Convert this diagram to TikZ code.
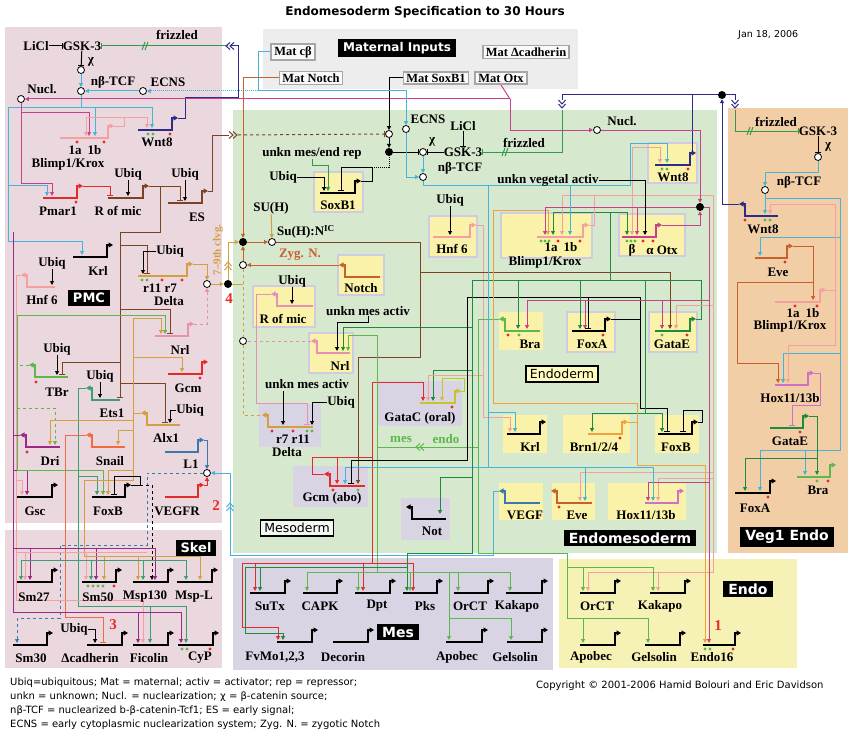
\documentclass[tikz,border=0pt]{standalone}
\usepackage{fontspec}
\setmainfont{Liberation Serif}
\newfontfamily\dsans{DejaVu Sans}
\usetikzlibrary{arrows.meta}
\pgfdeclarelayer{back}\pgfdeclarelayer{mid}\pgfsetlayers{back,mid,main}
\definecolor{pinkBG}{HTML}{EBD8DE}
\definecolor{greenBG}{HTML}{D6E8CD}
\definecolor{orangeBG}{HTML}{F2CEA6}
\definecolor{lavBG}{HTML}{D8D4E3}
\definecolor{yelBG}{HTML}{F6F1B4}
\definecolor{grayBG}{HTML}{EEEDED}
\definecolor{boxY}{HTML}{F9F2A8}
\definecolor{boxL}{HTML}{CFCBE3}
\definecolor{cLB}{HTML}{45B4D8}
\definecolor{cMag}{HTML}{C8408C}
\definecolor{cSal}{HTML}{F2A0A0}
\definecolor{cNavy}{HTML}{2C2C88}
\definecolor{cRed}{HTML}{E42A2A}
\definecolor{cBrown}{HTML}{7A4422}
\definecolor{cGold}{HTML}{D2A042}
\definecolor{cPink}{HTML}{E690B4}
\definecolor{cHox}{HTML}{D070C0}
\definecolor{cLG}{HTML}{5CB84A}
\definecolor{cTeal}{HTML}{3AA070}
\definecolor{cDG}{HTML}{1E8A3C}
\definecolor{cPur}{HTML}{9A2886}
\definecolor{cSnail}{HTML}{F06A44}
\definecolor{cSteel}{HTML}{3A78B0}
\definecolor{cOr}{HTML}{F0A040}
\definecolor{cEve}{HTML}{C8602C}
\definecolor{cOlive}{HTML}{C8C428}
\definecolor{cFz}{HTML}{2E9C4C}
\tikzset{
 gt/.style={font=\bfseries\fontsize{13}{14}\selectfont, inner sep=0pt},
 ft/.style={font=\dsans\fontsize{10}{12}\selectfont, inner sep=0pt, anchor=west},
 blk/.style={fill=black, text=white, font=\dsans\bfseries\fontsize{13}{14}\selectfont, inner xsep=5pt, inner ysep=3pt},
 lbl/.style={draw=black, line width=1.6pt, font=\dsans\fontsize{12.5}{14}\selectfont, inner xsep=4pt, inner ysep=3pt},
 mat/.style={font=\bfseries\fontsize{12.5}{14}\selectfont, draw=gray!70, fill=white!95!gray, line width=1.6pt, inner xsep=3pt, inner ysep=2pt},
 num/.style={font=\bfseries\fontsize{15}{16}\selectfont, text=cRed, inner sep=0pt},
 clv/.style={font=\bfseries\fontsize{11}{12}\selectfont, text=cGold, inner sep=0pt, rotate=90},
 gl/.style={line width=2pt},
 cn/.style={line width=1pt},
 ar/.style={cn,-{Triangle[length=4pt,width=4pt]}},
 rp/.style={cn,-{Bar[width=6pt,line width=1pt]}},
 oc/.style={circle, draw=black, fill=white, line width=0.8pt, minimum size=7pt, inner sep=0pt},
 fc/.style={circle, fill=black, minimum size=8pt, inner sep=0pt},
 gbox/.style={fill=boxY, draw=boxL, line width=2pt},
 lbox/.style={fill=lavBG},
}
\newcommand\gR[4]{\draw[gl,#1,-{Triangle[length=4.5pt,width=5pt]}] (#2,#4)--(#3,#4)--(#3,#4-12)--(#3+6,#4-12);}
\newcommand\gL[4]{\draw[gl,#1,-{Triangle[length=4.5pt,width=5pt]}] (#3,#4)--(#2,#4)--(#2,#4-12)--(#2-6,#4-12);}
\newcommand\dR[2]{\fill[cRed] (#1,#2) circle (1.7pt);}
\newcommand\dG[2]{\fill[cLG] (#1,#2) circle (1.7pt);}
\newcommand\chev[4]{\begin{scope}[shift={(#1,#2)},rotate=#3]\draw[#4,line width=1pt] (4,-3.5)--(0,0)--(4,3.5) (8,-3.5)--(4,0)--(8,3.5);\end{scope}}
\newcommand\brk[3]{\draw[#3,line width=1pt] (#1-3,#2+4)--(#1,#2-4) (#1,#2+4)--(#1+3,#2-4);}
\begin{document}
\begin{tikzpicture}[x=1pt,y=-1pt]
\useasboundingbox (0,0) rectangle (850,741);
\begin{pgfonlayer}{back}
\fill[white] (0,0) rectangle (850,741);
\fill[pinkBG] (5,27) rectangle (222,523);
\fill[pinkBG] (5,530) rectangle (222,668);
\fill[grayBG] (263,29) rectangle (578,89);
\fill[greenBG] (233,110) rectangle (717,553);
\fill[orangeBG] (728,108) rectangle (848,553);
\fill[lavBG] (233,558) rectangle (553,670);
\fill[yelBG] (559,559) rectangle (797,668);
\draw[gbox] (314,172) rectangle (363,212);
\draw[gbox] (429,216) rectangle (477,257);
\draw[gbox] (338,255) rectangle (384,295);
\draw[gbox] (253,286) rectangle (315,327);
\draw[gbox] (309,333) rectangle (353,373);
\fill[lbox] (259,404) rectangle (321,447);
\fill[lbox] (378,381) rectangle (462,426);
\fill[lbox] (293,466) rectangle (368,507);
\fill[lbox] (401,498) rectangle (450,540);
\draw[gbox] (501,213) rectangle (592,258);
\draw[gbox] (619,214) rectangle (685,256);
\draw[gbox] (648,143) rectangle (697,183);
\fill[boxY] (499,312) rectangle (543,350);
\draw[gbox] (567,312) rectangle (615,352);
\draw[gbox] (649,312) rectangle (697,352);
\fill[boxY] (503,415) rectangle (547,453);
\fill[boxY] (563,415) rectangle (630,453);
\fill[boxY] (655,415) rectangle (699,453);
\fill[boxY] (499,483) rectangle (543,520);
\fill[boxY] (552,483) rectangle (595,520);
\fill[boxY] (608,483) rectangle (686,520);
\end{pgfonlayer}
% ---------- title and footer
\node[font=\dsans\bfseries\fontsize{12}{14}\selectfont, inner sep=0pt] (title) at (425,12) {Endomesoderm Specification to 30 Hours};
\node[ft, font=\dsans\fontsize{9.5}{11}\selectfont] (date) at (738,35) {Jan 18, 2006};
\node[ft] (f1) at (10,683) {Ubiq=ubiquitous; Mat = maternal; activ = activator; rep = repressor;};
\node[ft] (f2) at (10,697) {unkn = unknown; Nucl. = nuclearization; χ = β-catenin source;};
\node[ft] (f3) at (10,711) {nβ-TCF = nuclearized b-β-catenin-Tcf1; ES = early signal;};
\node[ft] (f4) at (10,725) {ECNS = early cytoplasmic nuclearization system; Zyg. N. = zygotic Notch};
\node[ft] (cpy) at (536,686) {Copyright © 2001-2006 Hamid Bolouri and Eric Davidson};
% ---------- maternal
\node[blk, font=\dsans\bfseries\fontsize{12}{14}\selectfont] (matin) at (397,48) {Maternal Inputs};
\node[mat] (matcb) at (293,52) {Mat cβ};
\node[mat] (matnotch) at (311,78) {Mat Notch};
\node[mat] (matsox) at (436,78) {Mat SoxB1};
\node[mat] (matdc) at (526,52) {Mat Δcadherin};
\node[mat] (matotx) at (501,78) {Mat Otx};
% ---------- PMC nodes
\node[gt] (licl1) at (36,46) {LiCl};
\node[gt] (gsk1) at (82,46) {GSK-3};
\node[gt] (friz1) at (177,35) {frizzled};
\node[oc] (cx1) at (81,70) {};
\node[gt] (chi1) at (91,62) {χ};
\node[oc] (ntcf1) at (81,91) {};
\node[gt] (ntcfl1) at (113,82) {nβ-TCF};
\node[oc] (ecns1) at (143,91) {};
\node[gt] (ecnsl1) at (168,82) {ECNS};
\node[oc] (nucl1) at (21,99) {};
\node[gt] (nucll1) at (42,89) {Nucl.};
\node[gt] (bl1ab) at (85,150) {1a\hspace{6pt}1b};
\node[gt] (bl1) at (68,164) {Blimp1/Krox};
\node[gt] (wnt1) at (157,142) {Wnt8};
\node[gt] (pmar) at (58,211) {Pmar1};
\node[gt] (rom1) at (118,211) {R of mic};
\node[gt] (ubq1) at (128,174) {Ubiq};
\node[gt] (ubq2) at (185,174) {Ubiq};
\node[gt] (es) at (197,217) {ES};
\node[gt] (krl1) at (98,271) {Krl};
\node[gt] (ubq3) at (52,263) {Ubiq};
\node[gt] (hnf1) at (42,300) {Hnf 6};
\node[blk] (pmc) at (89,298) {PMC};
\node[gt] (ubq4) at (170,251) {Ubiq};
\node[gt] (dl1a) at (160,288) {r11 r7};
\node[gt] (dl1) at (169,301) {Delta};
\node[gt] (nrl1) at (180,350) {Nrl};
\node[gt] (ubq5) at (57,349) {Ubiq};
\node[gt] (tbr) at (57,392) {TBr};
\node[gt] (gcm1) at (188,388) {Gcm};
\node[gt] (ubq6) at (100,376) {Ubiq};
\node[gt] (ets) at (112,413) {Ets1};
\node[gt] (ubq7) at (190,410) {Ubiq};
\node[gt] (alx) at (166,438) {Alx1};
\node[gt] (dri) at (50,461) {Dri};
\node[gt] (snail) at (110,461) {Snail};
\node[gt] (l1) at (191,464) {L1};
\node[oc] (cL1) at (207,473) {};
\node[gt] (vegfr) at (177,511) {VEGFR};
\node[num] (n2) at (216,506) {2};
\node[gt] (gsc) at (35,511) {Gsc};
\node[gt] (foxb1) at (108,511) {FoxB};
\node[oc] (c7) at (207,284) {};
\node[fc] (fdP) at (228,284) {};
\node[num] (n4) at (229,299) {4};
\node[clv] (clvg) at (218,250) {7–9th clvg.};
% ---------- Skel nodes
\node[blk] (skel) at (196,548) {Skel};
\node[gt] (sm27) at (34,597) {Sm27};
\node[gt] (sm50) at (98,597) {Sm50};
\node[gt] (msp130) at (145,597) {Msp130};
\node[gt] (mspl) at (194,597) {Msp-L};
\node[gt] (sm30) at (31,658) {Sm30};
\node[gt] (dcad) at (90,658) {Δcadherin};
\node[gt] (fic) at (149,658) {Ficolin};
\node[gt] (cyp) at (200,658) {CyP};
\node[gt] (ubqS) at (74,629) {Ubiq};
\node[num] (n3) at (113,625) {3};
% ---------- green region nodes
\node[oc] (cA) at (389,134) {};
\node[fc] (fdA) at (389,152) {};
\node[oc] (cB) at (423,152) {};
\node[gt] (chi2) at (432,142) {χ};
\node[gt] (gsk2) at (463,152) {GSK-3};
\node[gt] (licl2) at (463,126) {LiCl};
\node[gt] (friz2) at (524,143) {frizzled};
\node[oc] (ecns2) at (406,129) {};
\node[gt] (ecnsl2) at (428,119) {ECNS};
\node[oc] (ntcf2) at (423,177) {};
\node[gt] (ntcfl2) at (460,168) {nβ-TCF};
\node[gt] (umer) at (312,153) {unkn mes/end rep};
\node[gt] (ubq8) at (283,177) {Ubiq};
\node[gt] (soxb) at (338,205) {SoxB1};
\node[gt] (suh) at (271,208) {SU(H)};
\node[oc] (su) at (272,242) {};
\node[gt] (sul) at (306,232) {Su(H):N\textsuperscript{IC}};
\node[fc] (fdB) at (243,242) {};
\node[oc] (zyg) at (243,265) {};
\node[gt, text=cEve] (zygl) at (300,255) {Zyg. N.};
\node[gt] (notch) at (361,288) {Notch};
\node[gt] (ubq9) at (450,200) {Ubiq};
\node[gt] (hnf2) at (452,249) {Hnf 6};
\node[gt] (ubq10) at (292,281) {Ubiq};
\node[gt] (rom2) at (283,319) {R of mic};
\node[gt] (uma1) at (368,311) {unkn mes activ};
\node[oc] (cN) at (243,341) {};
\node[gt] (nrl2) at (340,366) {Nrl};
\node[gt] (uma2) at (307,384) {unkn mes activ};
\node[gt] (ubq11) at (341,402) {Ubiq};
\node[gt] (dl2a) at (293,439) {r7 r11};
\node[gt] (dl2) at (287,452) {Delta};
\node[gt] (gatac) at (420,418) {GataC (oral)};
\node[gt, text=cLG] (mesl) at (401,439) {mes};
\node[gt, text=cLG] (endol) at (446,439) {endo};
\node[gt] (gcm2) at (332,498) {Gcm (abo)};
\node[gt] (notl) at (432,531) {Not};
\node[lbl, fill=white!70!greenBG] (mesod) at (297,528) {Mesoderm};
\node[gt] (uva) at (548,180) {unkn vegetal activ};
\node[gt] (bl2ab) at (561,247) {1a\hspace{6pt}1b};
\node[gt] (bl2) at (545,262) {Blimp1/Krox};
\node[gt] (otxb) at (632,250) {β};
\node[gt] (otx) at (662,250) {α Otx};
\node[gt] (wnt2) at (673,177) {Wnt8};
\node[oc] (nucl2) at (597,130) {};
\node[gt] (nucll2) at (622,121) {Nucl.};
\node[fc] (fdN) at (722,95) {};
\node[fc] (fdE) at (700,207) {};
\node[gt] (bra2) at (530,344) {Bra};
\node[gt] (foxa2) at (592,344) {FoxA};
\node[gt] (gatae2) at (672,344) {GataE};
\node[lbl, fill=white!75!yellow] (endod) at (562,374) {Endoderm};
\node[gt] (krl2) at (530,447) {Krl};
\node[gt] (brn) at (594,447) {Brn1/2/4};
\node[gt] (foxb2) at (676,447) {FoxB};
\node[gt] (vegf) at (525,515) {VEGF};
\node[gt] (eve2) at (577,515) {Eve};
\node[gt] (hox2) at (646,515) {Hox11/13b};
\node[blk, font=\dsans\bfseries\fontsize{14}{15}\selectfont] (endomes) at (630,538) {Endomesoderm};
% ---------- Veg1 nodes
\node[gt] (friz3) at (776,122) {frizzled};
\node[gt] (gsk3) at (818,131) {GSK-3};
\node[oc] (cx3) at (818,157) {};
\node[gt] (chi3) at (828,147) {χ};
\node[oc] (ntcf3) at (765,190) {};
\node[gt] (ntcfl3) at (799,182) {nβ-TCF};
\node[gt] (wnt3) at (763,229) {Wnt8};
\node[gt] (eve3) at (778,272) {Eve};
\node[gt] (bl3ab) at (803,313) {1a\hspace{6pt}1b};
\node[gt] (bl3) at (790,326) {Blimp1/Krox};
\node[gt] (hox3) at (790,398) {Hox11/13b};
\node[gt] (gatae3) at (790,441) {GataE};
\node[gt] (bra3) at (818,490) {Bra};
\node[gt] (foxa3) at (755,508) {FoxA};
\node[blk, font=\dsans\bfseries\fontsize{14}{15}\selectfont] (veg1) at (787,537) {Veg1 Endo};
% ---------- Mes nodes
\node[gt] (sutx) at (270,606) {SuTx};
\node[gt] (capk) at (320,606) {CAPK};
\node[gt] (dpt) at (377,606) {Dpt};
\node[gt] (pks) at (425,606) {Pks};
\node[gt] (orct1) at (470,606) {OrCT};
\node[gt] (kak1) at (517,606) {Kakapo};
\node[gt] (fvmo) at (275,657) {FvMo1,2,3};
\node[gt] (dec) at (343,657) {Decorin};
\node[gt] (apo1) at (457,657) {Apobec};
\node[gt] (gel1) at (515,657) {Gelsolin};
\node[blk, font=\dsans\bfseries\fontsize{14}{15}\selectfont] (mesb) at (398,632) {Mes};
% ---------- Endo nodes
\node[gt] (orct2) at (597,606) {OrCT};
\node[gt] (kak2) at (660,606) {Kakapo};
\node[gt] (apo2) at (591,657) {Apobec};
\node[gt] (gel2) at (654,657) {Gelsolin};
\node[gt] (endo16) at (712,657) {Endo16};
\node[num] (n1) at (718,626) {1};
\node[blk, font=\dsans\bfseries\fontsize{14}{15}\selectfont] (endob) at (748,589) {Endo};
% ---------- genes
\gR{cSal}{60}{108}{138}
\gR{cNavy}{138}{172}{130}
\gR{cRed}{43}{77}{198}
\gR{cBrown}{108}{143}{198}
\gR{cBrown}{168}{202}{203}
\gR{black}{73}{107}{257}
\gL{cSal}{27}{55}{287}
\gR{cGold}{138}{187}{276}
\gR{cPink}{155}{188}{336}
\gL{cLG}{35}{68}{377}
\gR{cRed}{168}{202}{374}
\gL{cTeal}{92}{120}{400}
\gL{cGold}{147}{180}{425}
\gL{cPur}{26}{60}{447}
\gL{cSnail}{92}{125}{447}
\gR{cSteel}{165}{198}{452}
\gR{cRed}{165}{198}{497}
\gR{black}{17}{52}{497}
\gR{black}{92}{125}{497}
\gR{black}{17}{52}{582}
\gR{black}{82}{116}{582}
\gR{black}{133}{168}{582}
\gR{black}{177}{212}{582}
\gR{black}{13}{47}{645}
\gR{black}{87}{122}{645}
\gR{black}{133}{168}{645}
\gR{black}{178}{213}{645}
\gR{black}{320}{355}{193}
\gR{cSal}{433}{470}{237}
\gL{cEve}{345}{380}{277}
\gL{cPink}{277}{313}{306}
\gL{cPink}{317}{350}{353}
\gL{cGold}{268}{313}{427}
\gR{cOlive}{420}{455}{403}
\gL{cRed}{330}{365}{486}
\gL{black}{412}{446}{519}
\gR{cSal}{537}{583}{237}
\gR{cMag}{622}{656}{237}
\gR{cNavy}{655}{690}{165}
\gL{cLG}{505}{540}{331}
\gR{black}{572}{605}{331}
\gR{cDG}{655}{690}{331}
\gR{black}{507}{540}{434}
\gR{cOr}{588}{622}{434}
\gR{black}{658}{692}{434}
\gL{cSteel}{505}{540}{503}
\gL{cEve}{557}{592}{503}
\gR{cHox}{645}{678}{503}
\gL{cNavy}{745}{778}{216}
\gR{cEve}{755}{787}{258}
\gR{cSal}{775}{820}{302}
\gR{cHox}{775}{808}{385}
\gR{cDG}{770}{803}{428}
\gR{cLG}{797}{830}{477}
\gR{black}{735}{770}{493}
\gR{black}{250}{285}{593}
\gR{black}{303}{337}{593}
\gR{black}{355}{390}{593}
\gR{black}{403}{437}{593}
\gR{black}{454}{488}{593}
\gR{black}{506}{542}{593}
\gR{black}{277}{312}{642}
\gR{black}{333}{368}{642}
\gR{black}{446}{482}{642}
\gR{black}{507}{542}{642}
\gR{black}{580}{615}{593}
\gR{black}{650}{685}{593}
\gR{black}{580}{615}{645}
\gR{black}{645}{680}{645}
\gR{black}{703}{735}{645}
% ---------- dots
\dR{77}{142}\dR{104}{142}\dG{148}{134}\dG{153}{134}\dR{170}{134}\dR{76}{202}
\dG{142}{280}\dG{147}{280}\dR{162}{280}\dR{182}{280}\dR{36}{382}\dR{200}{378}\dR{27}{452}
\dG{88}{586}\dG{93}{586}\dG{98}{586}\dG{103}{586}\dR{114}{586}\dG{182}{649}\dG{187}{649}\dR{210}{649}
\dR{272}{431}\dR{293}{431}\dG{307}{431}\dG{312}{431}\dR{452}{407}\dR{333}{490}\dG{358}{490}
\dG{541}{241}\dG{545}{241}\dG{549}{241}\dR{558}{241}\dR{580}{241}
\dG{627}{241}\dG{631}{241}\dG{635}{241}\dR{643}{241}\dR{653}{241}
\dG{662}{169}\dG{667}{169}\dR{688}{169}\dR{508}{335}\dG{519}{335}\dR{603}{335}\dG{662}{335}\dR{687}{335}
\dR{620}{438}\dR{559}{507}
\dR{745}{220}\dG{765}{220}\dG{770}{220}\dR{785}{262}\dR{795}{306}\dR{817}{306}\dR{800}{432}
\dG{817}{481}\dR{828}{481}\dR{768}{497}\dG{705}{649}\dG{710}{649}\dR{733}{649}
% ---------- connectors
\begin{pgfonlayer}{mid}
% PMC top
\draw[rp] (licl1) -- (gsk1);
\draw[rp] (gsk1) -- (cx1);
\draw[ar,cLB] (cx1) -- (ntcf1);
\draw[rp,cFz] (228,46) -- (gsk1);
\brk{145}{46}{cFz}
\draw[cn,cNavy] (178,118) -- (185,118) -- (185,98) -- (238,98) -- (238,46) -- (230,46);
\chev{226}{46}{0}{cNavy}
\draw[cn,cLB] (matcb.west) -| (258,91);
\draw[ar,cLB,densely dotted] (258,91) -- (ecns1);
\draw[ar,cLB] (ecns1) -- (ntcf1);
\draw[cn,cLB] (ntcf1) -- (81,108);
\draw[ar,cLB] (8,108) -| (95,136);
\draw[ar,cLB] (81,108) -| (152,128);
\draw[ar,cLB] (8,108) |- (82,241) -- (82,255);
\draw[ar,cLB] (8,185) -| (47,196);
\draw[cn,cMag] (matotx.south) -- (510,99);
\draw[ar,cMag] (510,99) -- (nucl1);
\draw[ar,cMag] (nucl1) |- (89,112) -- (89,136);
\draw[ar,cMag] (nucl1) |- (52,183) -- (52,196);
\draw[cn,cSal] (114,126) -- (124,126) -- (124,117);
\draw[ar,cSal] (124,117) -| (86,136);
\draw[ar,cSal] (124,117) -| (147,128);
\draw[rp,cRed] (83,186) -| (110,196);
\draw[cn,cBrown] (149,186) -- (160,186);
\draw[rp,cBrown] (160,186) -| (180,201);
\draw[cn,cBrown] (160,186) |- (120,232);
\draw[rp,cBrown] (120,232) -- (120,398);
\draw[rp,cBrown] (120,245) -| (147,274);
\draw[rp,cBrown] (120,309) -| (170,334);
\draw[rp,cBrown] (120,362) -| (62,375);
\draw[rp,cBrown] (120,383) -| (165,423);
\draw[cn,cBrown] (208,191) -- (212,191) -- (212,135) -- (229,135);
\chev{237}{135}{180}{cBrown}
\draw[rp,cBrown,dashed] (238,135) -- (cA);
\draw[ar] (ubq1) -- (128,196);
\draw[ar] (ubq2) -- (185,201);
\draw[ar] (ubq3) -- (52,285);
\draw[ar] (ubq4.west) -| (143,274);
\draw[ar] (ubq5) -- (57,375);
\draw[ar] (ubq6) -- (100,398);
\draw[ar] (ubq7.west) -| (170,423);
\draw[cn,cSal] (21,275) -- (16,275) -- (16,600);
\draw[ar,cSal] (16,480) -| (22,495);
\draw[ar,cPur] (13,470) -| (27,495);
\draw[cn,cLG,dashed] (29,365) -- (17,365);
\draw[cn,cLG] (17,315) -- (17,470);
\draw[ar,cLG] (17,315) -| (165,334);
\draw[ar,cLG,dashed] (17,408) -| (55,445);
\draw[ar,cLG] (17,470) -| (103,495);
\draw[cn,cTeal] (86,388) -- (78,388) -- (78,560);
\draw[ar,cTeal] (78,476) -| (97,495);
\draw[cn,cGold] (141,413) -- (133,413);
\draw[cn,cGold] (133,318) -- (133,480) -- (84,480) -- (84,556);
\draw[ar,cGold] (133,318) -| (161,334);
\draw[ar,cGold] (133,357) -| (182,372);
\draw[ar,cGold] (133,420) -| (50,445);
\draw[ar,cGold] (133,430) -| (118,445);
\draw[ar,cGold] (133,470) -| (108,495);
\draw[cn,cPur] (20,435) -- (13,435);
\draw[cn,cPur] (13,232) -- (13,612);
\draw[cn,cSnail] (86,435) -- (65,435) -- (65,617) -- (103,617);
\draw[rp,cSnail] (103,617) -- (103,643);
\draw[ar,cPink,dashed] (194,324) -| (c7);
\draw[ar,cGold] (193,264) -| (c7);
\draw[ar,cGold] (c7) -- (fdP);
\draw[ar,cGold] (fdP) |- (fdB);
\chev{228}{262}{-90}{cGold}
\draw[cn,cGold] (fdP) -- (243,284);
\draw[ar,cSteel] (204,440) -| (cL1);
\draw[ar,cRed] (204,485) -| (cL1);
\draw[cn,cSteel,dashed] (cL1) -- (147,473) -- (147,545) -- (60,545) -- (60,618) -- (17,618);
\draw[ar,cSteel,dashed] (17,618) -- (17,643);
\draw[ar,cLB] (499,491) -- (493,491) -- (493,555) -- (230,555) -- (230,473) -- (cL1);
\chev{230}{503}{-90}{cLB}
\draw[rp] (131,485) -- (140,485) -- (140,476) -- (114,476) -- (114,495);
\draw[ar,dashed] (140,485) -- (152,485) -- (152,580);
% Skel
\draw[cn,cPur] (13,548) -- (155,548);
\draw[ar,cPur] (30,548) -- (30,580);
\draw[ar,cPur] (96,548) -- (96,580);
\draw[ar,cPur] (155,548) -- (155,580);
\draw[cn,cSal] (16,552) -- (147,552);
\draw[ar,cSal] (25,552) -- (25,580);
\draw[ar,cSal] (86,552) -- (86,580);
\draw[cn,cGold] (84,556) -- (200,556);
\draw[ar,cGold] (104,556) -- (104,580);
\draw[ar,cGold] (138,556) -- (138,580);
\draw[ar,cGold] (200,556) -- (200,580);
\draw[cn,cTeal] (21,560) -- (186,560);
\draw[ar,cTeal] (21,560) -- (21,580);
\draw[ar,cTeal] (91,560) -- (91,580);
\draw[ar,cTeal] (143,560) -- (143,580);
\draw[ar,cTeal] (186,560) -- (186,580);
\draw[ar,cTeal] (78,560) -- (78,606) -| (186,643);
\draw[ar,cTeal] (150,606) -- (150,643);
\draw[ar,cSal] (16,600) -| (143,643);
\draw[ar,cPur] (13,612) -| (181,643);
\draw[ar,cPur] (138,612) -- (138,643);
\draw[ar] (ubqS.east) -| (95,643);
% green region
\draw[ar] (matsox.west) -| (cA);
\draw[ar] (cA) -- (fdA);
\draw[rp] (fdA) -- (cB);
\draw[rp] (gsk2) -- (cB);
\draw[rp] (licl2) -- (gsk2);
\draw[ar,cLB] (cB) -- (ntcf2);
\draw[ar,cLB] (258,91) -| (ecns2);
\draw[ar,cLB] (ecns2) |- (ntcf2);
\draw[cn,cNavy] (562,100) |- (fdN);
\chev{562}{108}{90}{cNavy}
\draw[rp,cFz] (562,110) |- (gsk2);
\brk{505}{152}{cFz}
\draw[cn,cNavy] (692,153) -- (692,95);
\draw[cn,cNavy] (fdN) -- (735,95) -- (735,100);
\chev{735}{108}{90}{cNavy}
\draw[ar,cNavy] (739,204) -| (fdN);
\draw[ar,cFz] (umer.south) -- (312,165) -| (328,191);
\draw[ar] (ubq8.east) -| (324,191);
\draw[rp] (361,181) -- (372,181) -- (372,167) -- (341,167) -- (341,191);
\draw[cn,densely dotted] (372,167) -| (fdA);
\draw[ar] (ubq9) -- (450,235);
\draw[cn,cSal] (476,225) -- (483,225) -- (483,417);
\draw[ar,cSal] (483,417) -| (510,432);
\draw[ar,cEve] (matnotch.west) -| (fdB);
\draw[ar,cEve] (fdB) -- (su);
\draw[ar,cGold] (suh) -- (su);
\draw[ar,cEve] (339,265) -- (zyg);
\draw[ar,cEve] (zyg) -- (fdB);
\draw[cn,cGold,dashed] (zyg) -- (cN);
\draw[cn,cGold,dashed] (cN) |- (262,415);
\draw[cn,cPink,dashed] (311,341) -- (cN);
\draw[ar] (ubq10) -- (292,304);
\draw[rp,cPink] (271,294) -- (256,294) -- (256,403) -| (307,425);
\draw[ar] (uma1.south) -- (368,322) -| (337,351);
\draw[ar,cDG] (472,327) -| (343,351);
\draw[ar,cLG] (377,335) -| (348,351);
\draw[ar] (283,391) -- (283,425);
\draw[ar] (ubq11.west) -| (312,425);
\draw[cn,cBrown] (su) -- (420,242) -- (420,357) -- (358,357);
\draw[ar,cBrown] (358,357) -- (358,484);
\draw[cn,cBrown] (420,272) -- (670,272);
\draw[ar,cBrown] (670,272) -- (670,329);
\draw[cn,cRed] (324,474) -- (312,474) -- (312,457) -- (372,457);
\draw[ar,cRed] (337,457) -- (337,484);
\draw[cn,cRed] (372,382) -- (372,563);
\draw[ar,cRed] (372,382) -| (423,401);
\draw[ar,cOlive] (461,391) -- (464,391) -- (464,378) -- (442,378) -- (442,401);
\draw[ar,cDG] (472,370) -| (433,401);
\draw[ar,cSal] (483,375) -| (428,401);
\draw[cn,cLG] (499,319) -- (478,319) -- (478,553) -- (567,553) -- (567,618);
\draw[cn,cLG] (478,447) -- (377,447);
\chev{416}{447}{0}{cLG}
\draw[cn,cLG] (377,335) -- (377,572);
\draw[ar,cLB] (488,467) -| (345,484);
\draw[cn] (467,297) -- (640,297);
\draw[rp] (467,297) -- (467,460) -| (351,484);
\draw[rp] (588,297) -- (588,329);
\draw[cn] (611,319) -- (640,319) -- (640,297);
\draw[cn] (640,319) -- (640,408) -- (667,408);
\draw[rp] (667,408) -- (667,432);
\draw[rp] (698,422) -- (702,422) -- (702,410) -- (683,410) -- (683,432);
\draw[cn,cDG] (696,319) -- (701,319) -- (701,280) -- (472,280) -- (472,477) -- (440,477);
\draw[ar,cDG] (440,477) -- (440,514);
\draw[ar,cDG] (518,280) -- (518,329);
\draw[ar,cDG] (580,280) -- (580,329);
\draw[ar,cDG] (645,280) -- (645,413) -| (592,432);
\draw[ar,cDG] (645,413) -| (662,432);
\draw[cn,cDG] (610,280) -- (610,212);
\draw[ar,cDG] (610,212) -| (553,235);
\draw[ar,cDG] (610,212) -| (627,235);
\draw[cn,cOr] (628,422) -- (637,422) -- (637,403) -- (493,403) -- (493,210) -- (548,210);
\draw[ar,cOr] (548,210) -- (548,235);
\draw[ar,cOr] (637,422) -- (637,465) -- (705,465) -- (705,643);
\draw[cn,cSal] (589,225) -- (594,225) -- (594,195);
\draw[ar,cSal] (594,195) -| (562,235);
\draw[cn,cSal] (594,195) -- (713,195) -- (713,572) -- (588,572);
\draw[ar,cSal] (588,572) -- (588,591);
\draw[ar,cSal] (658,572) -- (658,591);
\draw[ar,cSal] (632,195) -- (632,235);
\draw[ar,cSal] (632,195) |- (660,147) -- (660,163);
\draw[ar,cSal] (713,305) -| (676,329);
\draw[ar,cSal] (713,478) -| (658,501);
\draw[ar,cSal] (713,472) -| (580,501);
\draw[ar,cMag] (510,99) |- (nucl2);
\draw[ar,cMag] (nucl2) -| (fdE);
\draw[ar,cMag] (662,225) -- (700,225) -- (fdE);
\draw[cn,cMag] (fdE) -- (545,207);
\draw[ar,cMag] (545,207) -- (545,235);
\draw[ar,cMag] (637,207) -- (637,235);
\draw[ar,cMag] (fdE) -| (709,643);
\draw[cn,cMag] (709,300) -- (527,300);
\draw[ar,cMag] (527,300) -- (527,329);
\draw[ar,cMag] (585,300) -- (585,329);
\draw[ar,cMag] (662,300) -- (662,329);
\draw[ar,cMag] (709,482) -| (648,501);
\draw[ar,cLB] (ntcf2) |- (630,185) |- (667,143) -- (667,163);
\draw[ar,cLB] (570,185) -- (570,235);
\draw[cn,cLB] (488,185) -- (488,467) -- (653,467);
\draw[ar,cLB] (653,467) -- (653,501);
\draw[ar,cLB] (585,467) -- (585,501);
\draw[ar,cLB] (488,412) -| (515,432);
\draw[ar] (uva.east) -| (645,235);
% Veg1
\draw[rp,cFz] (735,110) |- (gsk3);
\brk{750}{131}{cFz}
\draw[rp] (gsk3) -- (cx3);
\draw[ar,cLB] (cx3) |- (765,172) -- (ntcf3);
\draw[ar,cLB] (ntcf3) -- (765,214);
\draw[cn,cLB] (765,198) -- (840,198) -- (840,450) -- (760,450);
\draw[ar,cLB] (760,450) -- (760,491);
\draw[ar,cLB] (805,450) -- (805,475);
\draw[ar,cLB] (840,237) -| (760,256);
\draw[ar,cLB] (840,353) -| (783,383);
\draw[cn,cSal] (826,290) -- (835,290);
\draw[ar,cSal] (835,290) |- (770,204) -- (770,214);
\draw[ar,cSal] (835,290) |- (788,345) -- (788,383);
\draw[ar,cEve] (793,246) -- (813,246) -- (813,300);
\draw[ar,cEve] (813,282) -- (737,282) -- (737,363) -| (778,383);
\draw[rp,cHox] (814,373) -- (820,373) -- (820,405) -- (792,405) -- (792,426);
\draw[ar,cDG] (809,416) -- (817,416) -- (817,475);
\draw[ar,cDG] (817,458) -| (745,491);
% Mes
\draw[cn,cRed] (242,563) -- (413,563);
\draw[ar,cRed] (255,563) -- (255,591);
\draw[ar,cRed] (363,563) -- (363,591);
\draw[ar,cRed] (413,563) -- (413,591);
\draw[ar,cRed] (242,563) -- (242,627) -| (278,640);
\draw[cn,cDG] (472,477) -- (472,553) -- (407,553) -- (407,567);
\draw[cn,cDG] (245,567) -- (407,567);
\draw[ar,cDG] (260,567) -- (260,591);
\draw[ar,cDG] (407,567) -- (407,591);
\draw[ar,cDG] (245,567) -- (245,633) -| (283,640);
\draw[cn,cLG] (307,572) -- (510,572);
\draw[ar,cLG] (307,572) -- (307,591);
\draw[ar,cLG] (358,572) -- (358,591);
\draw[ar,cLG] (410,572) -- (410,591);
\draw[ar,cLG] (458,572) -- (458,591);
\draw[ar,cLG] (510,572) -- (510,591);
\draw[ar,cLG] (449,572) -- (449,640);
\draw[ar,cLG] (449,618) -| (511,640);
% Endo
\draw[cn,cLG] (567,567) -- (653,567);
\draw[ar,cLG] (583,567) -- (583,591);
\draw[ar,cLG] (653,567) -- (653,591);
\draw[cn,cLG] (567,618) -- (648,618);
\draw[ar,cLG] (583,618) -- (583,643);
\draw[ar,cLG] (648,618) -- (648,643);
\end{pgfonlayer}
\end{tikzpicture}
\end{document}
